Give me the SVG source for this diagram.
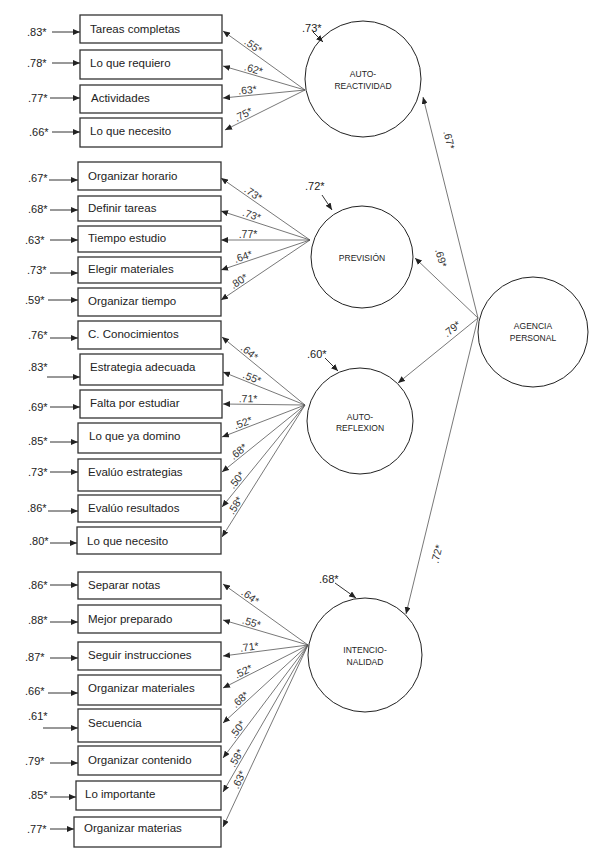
<svg xmlns="http://www.w3.org/2000/svg" width="600" height="865" viewBox="0 0 600 865">
<defs>
<marker id="ah" markerUnits="userSpaceOnUse" markerWidth="8" markerHeight="6" refX="7" refY="3" orient="auto"><path d="M0,0 L7,3 L0,6 Z" fill="#222"/></marker>
<style>
.box{fill:#fff;stroke:#333;stroke-width:1.3}
.lat{fill:#fff;stroke:#222;stroke-width:1}
.t{font-family:"Liberation Sans",Arial,sans-serif;font-size:11.5px;fill:#222}
.e{font-family:"Liberation Sans",Arial,sans-serif;font-size:11px;fill:#222}
.c{font-family:"Liberation Sans",Arial,sans-serif;font-size:10.5px;fill:#333;text-anchor:middle}
.n{font-family:"Liberation Sans",Arial,sans-serif;font-size:8.5px;fill:#222;text-anchor:middle}
.ln{stroke:#555;stroke-width:0.8;fill:none;marker-end:url(#ah)}
.er{stroke:#333;stroke-width:1;fill:none;marker-end:url(#ah)}
</style>
</defs>
<rect width="600" height="865" fill="#fff"/>

<!-- latent nodes -->
<g id="autoreactividad"><circle class="lat" cx="363" cy="79" r="58"/><text class="n" x="363" y="77">AUTO-</text><text class="n" x="363" y="89">REACTIVIDAD</text></g>
<g id="prevision"><circle class="lat" cx="362" cy="257" r="51"/><text class="n" x="362" y="261">PREVISIÓN</text></g>
<g id="agencia"><circle class="lat" cx="533" cy="332" r="55"/><text class="n" x="533" y="329">AGENCIA</text><text class="n" x="533" y="341">PERSONAL</text></g>
<g id="autoreflexion"><circle class="lat" cx="360" cy="421" r="53"/><text class="n" x="360" y="420">AUTO-</text><text class="n" x="360" y="431">REFLEXION</text></g>
<g id="intencionalidad"><circle class="lat" cx="365" cy="655" r="57"/><text class="n" x="365" y="653">INTENCIO-</text><text class="n" x="365" y="665">NALIDAD</text></g>

<!-- observed nodes: AUTO-REACTIVIDAD -->
<g id="ar1"><rect class="box" x="80" y="15" width="142" height="28"/><text class="t" x="90" y="33">Tareas completas</text></g>
<g id="ar2"><rect class="box" x="80" y="50" width="142" height="29"/><text class="t" x="90" y="67">Lo que requiero</text></g>
<g id="ar3"><rect class="box" x="80" y="85" width="142" height="28"/><text class="t" x="91" y="102">Actividades</text></g>
<g id="ar4"><rect class="box" x="80" y="118" width="142" height="29"/><text class="t" x="90" y="135">Lo que necesito</text></g>

<!-- PREVISION -->
<g id="pv1"><rect class="box" x="78" y="162" width="143" height="28"/><text class="t" x="88" y="180">Organizar horario</text></g>
<g id="pv2"><rect class="box" x="78" y="196" width="143" height="25"/><text class="t" x="88" y="212">Definir tareas</text></g>
<g id="pv3"><rect class="box" x="78" y="226" width="143" height="26"/><text class="t" x="88" y="242">Tiempo estudio</text></g>
<g id="pv4"><rect class="box" x="78" y="257" width="143" height="26"/><text class="t" x="88" y="273">Elegir materiales</text></g>
<g id="pv5"><rect class="box" x="78" y="288" width="143" height="28"/><text class="t" x="88" y="305">Organizar tiempo</text></g>

<!-- AUTO-REFLEXION -->
<g id="rf1"><rect class="box" x="78" y="321" width="143" height="28"/><text class="t" x="88" y="338">C. Conocimientos</text></g>
<g id="rf2"><rect class="box" x="80" y="354" width="143" height="31"/><text class="t" x="90" y="371">Estrategia adecuada</text></g>
<g id="rf3"><rect class="box" x="80" y="390" width="142" height="28"/><text class="t" x="90" y="407">Falta por estudiar</text></g>
<g id="rf4"><rect class="box" x="78" y="423" width="143" height="30"/><text class="t" x="89" y="440">Lo que ya domino</text></g>
<g id="rf5"><rect class="box" x="78" y="459" width="143" height="32"/><text class="t" x="88" y="476">Evalúo estrategias</text></g>
<g id="rf6"><rect class="box" x="78" y="495" width="143" height="27"/><text class="t" x="88" y="512">Evalúo resultados</text></g>
<g id="rf7"><rect class="box" x="77" y="527" width="144" height="27"/><text class="t" x="87" y="545">Lo que necesito</text></g>

<!-- INTENCIONALIDAD -->
<g id="in1"><rect class="box" x="78" y="572" width="143" height="27"/><text class="t" x="88" y="589">Separar notas</text></g>
<g id="in2"><rect class="box" x="78" y="605" width="143" height="28"/><text class="t" x="88" y="623">Mejor preparado</text></g>
<g id="in3"><rect class="box" x="78" y="642" width="143" height="28"/><text class="t" x="88" y="659">Seguir instrucciones</text></g>
<g id="in4"><rect class="box" x="78" y="675" width="143" height="30"/><text class="t" x="88" y="692">Organizar materiales</text></g>
<g id="in5"><rect class="box" x="78" y="709" width="143" height="33"/><text class="t" x="88" y="727">Secuencia</text></g>
<g id="in6"><rect class="box" x="78" y="746" width="143" height="29"/><text class="t" x="88" y="764">Organizar contenido</text></g>
<g id="in7"><rect class="box" x="76" y="781" width="145" height="29"/><text class="t" x="85" y="798">Lo importante</text></g>
<g id="in8"><rect class="box" x="74" y="817" width="147" height="30"/><text class="t" x="84" y="832">Organizar materias</text></g>

<!-- connectors -->
<g id="connectors">
<!-- error terms on indicators -->
<g id="errors">
<text class="e" x="27" y="36">.83*</text><line class="er" x1="52" y1="32" x2="80" y2="32"/>
<text class="e" x="27" y="67">.78*</text><line class="er" x1="52" y1="63" x2="80" y2="63"/>
<text class="e" x="28" y="102">.77*</text><line class="er" x1="50" y1="98" x2="80" y2="98"/>
<text class="e" x="29" y="136">.66*</text><line class="er" x1="52" y1="132" x2="80" y2="132"/>

<text class="e" x="28" y="182">.67*</text><line class="er" x1="49" y1="180" x2="78" y2="180"/>
<text class="e" x="28" y="213">.68*</text><line class="er" x1="50" y1="210" x2="78" y2="210"/>
<text class="e" x="25" y="244">.63*</text><line class="er" x1="50" y1="240" x2="78" y2="240"/>
<text class="e" x="27" y="274">.73*</text><line class="er" x1="50" y1="273" x2="78" y2="273"/>
<text class="e" x="25" y="304">.59*</text><line class="er" x1="48" y1="300" x2="78" y2="300"/>

<text class="e" x="28" y="339">.76*</text><line class="er" x1="50" y1="338" x2="78" y2="338"/>
<text class="e" x="28" y="371">.83*</text><line class="er" x1="47" y1="377" x2="80" y2="377"/>
<text class="e" x="28" y="411">.69*</text><line class="er" x1="50" y1="407" x2="80" y2="407"/>
<text class="e" x="28" y="445">.85*</text><line class="er" x1="50" y1="442" x2="78" y2="442"/>
<text class="e" x="28" y="476">.73*</text><line class="er" x1="50" y1="472" x2="78" y2="472"/>
<text class="e" x="27" y="512">.86*</text><line class="er" x1="48" y1="511" x2="78" y2="511"/>
<text class="e" x="29" y="545">.80*</text><line class="er" x1="50" y1="543" x2="77" y2="543"/>

<text class="e" x="28" y="589">.86*</text><line class="er" x1="50" y1="585" x2="78" y2="585"/>
<text class="e" x="28" y="624">.88*</text><line class="er" x1="50" y1="622" x2="78" y2="622"/>
<text class="e" x="25" y="661">.87*</text><line class="er" x1="50" y1="658" x2="78" y2="658"/>
<text class="e" x="25" y="695">.66*</text><line class="er" x1="48" y1="693" x2="78" y2="693"/>
<text class="e" x="28" y="720">.61*</text><line class="er" x1="43" y1="728" x2="78" y2="728"/>
<text class="e" x="25" y="765">.79*</text><line class="er" x1="50" y1="763" x2="78" y2="763"/>
<text class="e" x="28" y="799">.85*</text><line class="er" x1="50" y1="797" x2="76" y2="797"/>
<text class="e" x="27" y="833">.77*</text><line class="er" x1="50" y1="829" x2="74" y2="829"/>
</g>

<!-- disturbances on latents -->
<g id="disturbances">
<text class="e" x="302" y="32">.73*</text><line class="er" x1="313" y1="32" x2="323" y2="42"/>
<text class="e" x="305" y="190">.72*</text><line class="er" x1="322" y1="195" x2="332" y2="210"/>
<text class="e" x="307" y="358">.60*</text><line class="er" x1="325" y1="358" x2="338" y2="371"/>
<text class="e" x="319" y="583">.68*</text><line class="er" x1="335" y1="583" x2="356" y2="598"/>
</g>

<!-- loadings AUTO-REACTIVIDAD -->
<g id="load-ar">
<line class="ln" x1="305" y1="90" x2="223" y2="31"/>
<line class="ln" x1="305" y1="90" x2="223" y2="66"/>
<line class="ln" x1="305" y1="90" x2="223" y2="98"/>
<line class="ln" x1="305" y1="90" x2="225" y2="130"/>
<text class="c" transform="translate(250,50.4) rotate(35.7)" y="-2">.55*</text>
<text class="c" transform="translate(252,74.5) rotate(16.3)" y="-2">.62*</text>
<text class="c" transform="translate(248,95.6) rotate(-5.6)" y="-2">.63*</text>
<text class="c" transform="translate(246,119.5) rotate(-26.6)" y="-2">.75*</text>
</g>

<!-- loadings PREVISION -->
<g id="load-pv">
<line class="ln" x1="310" y1="240" x2="221" y2="178"/>
<line class="ln" x1="310" y1="240" x2="221" y2="211"/>
<line class="ln" x1="310" y1="240" x2="221" y2="240"/>
<line class="ln" x1="310" y1="240" x2="221" y2="270"/>
<line class="ln" x1="310" y1="240" x2="221" y2="300"/>
<text class="c" transform="translate(250,198.2) rotate(34.9)" y="-2">.73*</text>
<text class="c" transform="translate(250,220.4) rotate(18)" y="-2">.73*</text>
<text class="c" transform="translate(248,240) rotate(0)" y="-2">.77*</text>
<text class="c" transform="translate(245,261.9) rotate(-18.6)" y="-2">.64*</text>
<text class="c" transform="translate(242,285.8) rotate(-34)" y="-2">.80*</text>
</g>

<!-- loadings AUTO-REFLEXION -->
<g id="load-rf">
<line class="ln" x1="305" y1="405" x2="222" y2="337"/>
<line class="ln" x1="305" y1="405" x2="223" y2="372"/>
<line class="ln" x1="305" y1="405" x2="223" y2="404"/>
<line class="ln" x1="305" y1="405" x2="222" y2="437"/>
<line class="ln" x1="305" y1="405" x2="222" y2="472"/>
<line class="ln" x1="305" y1="405" x2="222" y2="507"/>
<line class="ln" x1="305" y1="405" x2="222" y2="537"/>
<text class="c" transform="translate(246,356.7) rotate(39.3)" y="-2">.64*</text>
<text class="c" transform="translate(250,382.9) rotate(21.9)" y="-2">.55*</text>
<text class="c" transform="translate(248,404.3) rotate(0.7)" y="-2">.71*</text>
<text class="c" transform="translate(245,428.1) rotate(-21)" y="-2">.52*</text>
<text class="c" transform="translate(242,455.9) rotate(-39)" y="-2">.68*</text>
<text class="c" transform="translate(241,483.6) rotate(-50.9)" y="-2">.50*</text>
<text class="c" transform="translate(240,508.4) rotate(-57.8)" y="-2">.58*</text>
</g>

<!-- loadings INTENCIONALIDAD -->
<g id="load-in">
<line class="ln" x1="308" y1="645" x2="223" y2="584"/>
<line class="ln" x1="308" y1="645" x2="223" y2="620"/>
<line class="ln" x1="308" y1="645" x2="223" y2="656"/>
<line class="ln" x1="308" y1="645" x2="223" y2="688"/>
<line class="ln" x1="308" y1="645" x2="223" y2="723"/>
<line class="ln" x1="308" y1="645" x2="223" y2="758"/>
<line class="ln" x1="308" y1="645" x2="223" y2="792"/>
<line class="ln" x1="308" y1="645" x2="223" y2="827"/>
<text class="c" transform="translate(247,601.2) rotate(35.7)" y="-2">.64*</text>
<text class="c" transform="translate(250,627.9) rotate(16.4)" y="-2">.55*</text>
<text class="c" transform="translate(250,652.5) rotate(-7.4)" y="-2">.71*</text>
<text class="c" transform="translate(246,676.4) rotate(-26.8)" y="-2">.52*</text>
<text class="c" transform="translate(244,703.7) rotate(-42.5)" y="-2">.68*</text>
<text class="c" transform="translate(242,732.7) rotate(-53)" y="-2">.50*</text>
<text class="c" transform="translate(241,760.9) rotate(-60)" y="-2">.58*</text>
<text class="c" transform="translate(244,782) rotate(-65)" y="-2">.63*</text>
</g>

<!-- structural paths from AGENCIA PERSONAL -->
<g id="structural">
<line class="ln" x1="478" y1="318" x2="423" y2="97"/>
<line class="ln" x1="478" y1="318" x2="415" y2="258"/>
<line class="ln" x1="478" y1="318" x2="398" y2="383"/>
<line class="ln" x1="478" y1="318" x2="406" y2="614"/>
<text class="c" transform="translate(449,140) rotate(76)" y="3.5">.67*</text>
<text class="c" transform="translate(441,258) rotate(74)" y="3.5">.69*</text>
<text class="c" transform="translate(452,329) rotate(-39)" y="3.5">.79*</text>
<text class="c" transform="translate(437,554) rotate(-76)" y="3.5">.72*</text>
</g>
</g>
</svg>
